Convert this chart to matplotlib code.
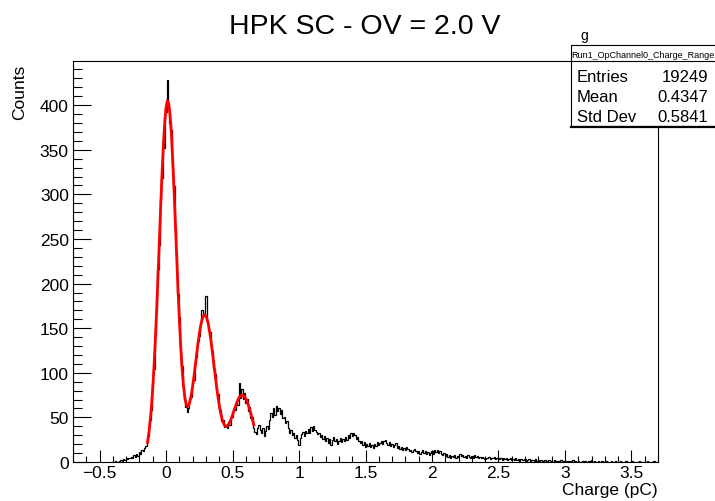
import numpy as np
import matplotlib.pyplot as plt
from matplotlib.ticker import MultipleLocator
from matplotlib.patches import Rectangle
from matplotlib.lines import Line2D

plt.rcParams['font.family'] = ['Liberation Sans', 'DejaVu Sans']

# histogram: 0.01 pC bins, first bin centred at -0.40 pC
bin_width = 0.01
first_center = -0.40

counts_pedestal = [0, 0, 1, 0, 0, 1, 2, 1, 3, 2, 4, 3, 5, 4, 6, 5, 8, 6, 9, 7,
                   11, 9, 13, 12, 16, 18]

counts_peaks = [24, 29, 47, 58, 86, 104, 142, 168, 216, 243,
                295, 318, 361, 352, 392, 428, 401, 380, 372, 331,
                309, 261, 233, 188, 163, 126, 108, 83, 70, 62,
                56, 61, 72, 73, 89, 92, 112, 118, 136, 141,
                155, 170, 164, 166, 186, 158, 148, 146, 128, 124,
                104, 99, 81, 76, 61, 58, 46, 47, 39, 42,
                38, 45, 41, 52, 50, 59, 58, 66, 64, 88,
                72, 82, 71, 77, 66, 71, 57, 62, 49, 51,
                38]

counts_tail = [34, 31, 38, 41, 36, 33, 38, 29, 35, 40,
               37, 47, 55, 51, 60, 53, 63, 57, 61, 54,
               58, 49, 50, 44, 46, 38, 33, 36, 30, 32,
               27, 30, 25, 19, 27, 31, 34, 29, 35, 33,
               37, 32, 39, 35, 40, 36, 34, 31, 33, 28,
               30, 26, 29, 24, 27, 21, 26, 19, 25, 28,
               23, 26, 20, 24, 27, 22, 26, 24, 28, 25,
               30, 27, 32, 29, 33, 30, 26, 28, 23, 21,
               24, 19, 22, 17, 20, 18, 21, 17, 19, 16,
               20, 18, 22, 19, 21, 24, 20, 23, 25, 21,
               19, 22, 18, 20, 17, 19, 21, 16, 18, 15,
               17, 14, 16, 13, 17, 15, 12, 14, 11, 13,
               15, 12, 10, 12, 9, 11, 13, 10, 12, 9,
               11, 8, 10, 12, 9, 13, 11, 14, 10, 12,
               9, 8, 10, 7, 9, 6, 8, 5, 7, 6,
               8, 5, 7, 6, 9, 7, 8, 6, 7, 5,
               8, 6, 4, 7, 5, 8, 6, 7, 5, 6,
               4, 6, 5, 3, 5, 4, 6, 3, 5, 4,
               6, 3, 4, 5, 3, 4, 2, 4, 3, 5,
               2, 3, 4, 2, 3, 2, 4, 2, 3, 1,
               3, 2, 2, 3, 1, 2, 3, 1, 2, 2,
               1, 3, 1, 2, 1, 2, 1, 1, 2, 0,
               1, 2, 1, 1, 0, 2, 1, 1, 0, 1,
               2, 1, 0, 1, 1, 0, 1, 0, 1, 2,
               0, 1, 0, 1, 0, 0, 1, 0, 1, 0,
               0, 1, 0, 2, 0, 1, 0, 0, 1, 0,
               0, 1, 0, 0, 1, 0, 0, 0, 1, 0,
               0, 1, 0, 0, 0, 1, 0, 0, 0, 1,
               0, 0, 0, 0, 1, 0, 0, 0, 0, 1,
               0, 0, 0, 0, 0, 1, 0, 0, 0, 0,
               1, 0, 0]

# multi-peak fit, sampled every 0.01 pC from -0.14 pC
fit_start = -0.14
fit_curve = [22.0, 31.9, 45.1, 62.1, 83.4, 109.2, 139.4, 173.6, 210.8, 249.5,
             288.1, 324.3, 356.0, 381.0, 397.8, 405.0, 402.0, 389.2, 367.5, 338.6,
             304.5, 267.3, 229.5, 192.9, 159.4, 130.1, 105.8, 87.0, 73.7, 65.7,
             62.3, 63.3, 67.9, 75.3, 85.0, 96.3, 108.4, 120.8, 132.7, 143.4,
             152.4, 159.2, 163.5, 165.0, 163.7, 159.5, 152.8, 143.8, 133.2, 121.3,
             108.9, 96.4, 84.4, 73.3, 63.5, 55.3, 48.7, 44.1, 41.1, 39.9,
             40.3, 42.0, 44.9, 48.5, 52.8, 57.2, 61.7, 65.9, 69.5, 72.4,
             74.2, 75.0, 74.7, 73.3, 70.8, 67.4, 63.1, 58.2, 52.8, 47.2,
             41.5]

title = 'HPK SC - OV = 2.0 V'
hist_name = 'Run1_OpChannel0_Charge_Range'
stat_names = ['Entries', 'Mean', 'Std Dev']
stat_values = ['19249', '0.4347', '0.5841']

counts = np.array(counts_pedestal + counts_peaks + counts_tail)
edges = first_center - bin_width / 2 + bin_width * np.arange(len(counts) + 1)
fit_x = fit_start + bin_width * np.arange(len(fit_curve))

W, H = 715, 502
fig = plt.figure(figsize=(W / 100, H / 100), dpi=100)


def fx(x):
    return x / W


def fy(y):
    return 1 - y / H


ax = fig.add_axes([fx(73), fy(463), (658 - 73) / W, (463 - 62) / H])
ax.stairs(counts, edges, color='black', lw=0.9)
ax.plot(fit_x, fit_curve, color='red', lw=2)

ax.set_xlim(-0.7, 3.7)
ax.set_ylim(0, 449.5)
ax.xaxis.set_major_locator(MultipleLocator(0.5))
ax.xaxis.set_minor_locator(MultipleLocator(0.1))
ax.yaxis.set_major_locator(MultipleLocator(50))
ax.yaxis.set_minor_locator(MultipleLocator(10))
ax.xaxis.set_major_formatter(lambda v, p: ('%g' % v).replace('-', '\u2212'))
ax.tick_params(axis='both', which='both', direction='in', top=False, right=False,
               labelsize=12.5, width=0.8, color='black')
ax.tick_params(axis='x', which='major', length=8.6, pad=2)
ax.tick_params(axis='x', which='minor', length=4.3)
ax.tick_params(axis='y', which='major', length=12.6, pad=3)
ax.tick_params(axis='y', which='minor', length=6.3)
for s in ax.spines.values():
    s.set_linewidth(0.8)

fig.text(fx(658), fy(491), 'Charge (pC)', ha='right', va='center', size=12.5)
fig.text(fx(20), fy(65), 'Counts', ha='center', va='top', rotation=90, size=12.5)
fig.text(fx(365), fy(27), title, ha='center', va='center', size=20.5)
fig.text(fx(584), fy(36), 'g', ha='center', va='center', size=10)

# statistics box
box = Rectangle((fx(571), fy(127)), fx(740) - fx(571), fy(46) - fy(127),
                transform=fig.transFigure, facecolor='white', edgecolor='black',
                lw=0.8, zorder=3)
fig.patches.append(box)
fig.lines.append(Line2D([fx(571), fx(740)], [fy(62), fy(62)],
                        transform=fig.transFigure, color='black', lw=0.8, zorder=4))
fig.lines.append(Line2D([fx(571), fx(740)], [fy(127.5), fy(127.5)],
                        transform=fig.transFigure, color='black', lw=1.6, zorder=4))
fig.text(fx(571), fy(55), hist_name, ha='left', va='center', size=6.5, zorder=5)
for i, (name, val) in enumerate(zip(stat_names, stat_values)):
    yy = fy(77 + 20 * i)
    fig.text(fx(577), yy, name, ha='left', va='center', size=12, zorder=5)
    fig.text(fx(708), yy, val, ha='right', va='center', size=12, zorder=5)

fig.savefig('out.png', dpi=100)
